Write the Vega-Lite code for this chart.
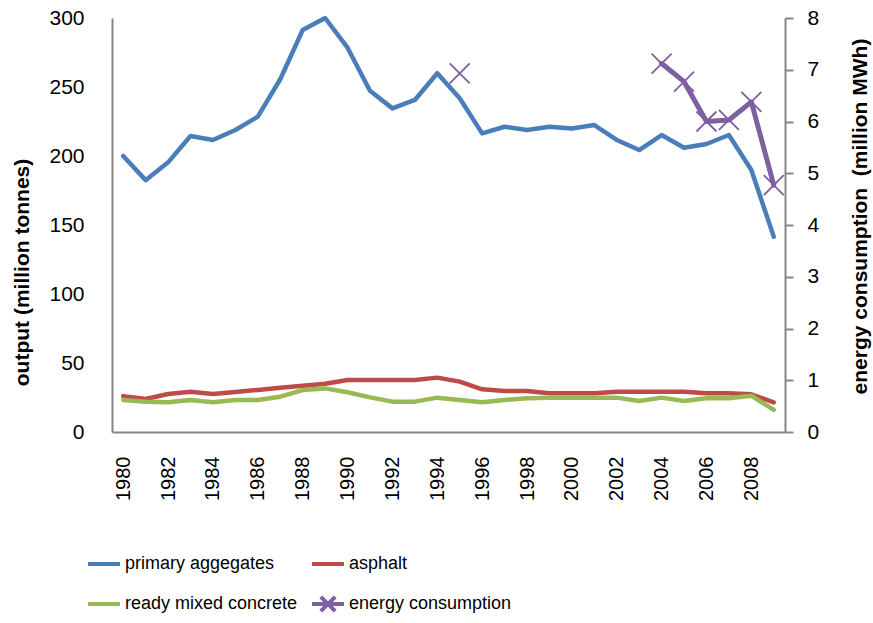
{
  "$schema": "https://vega.github.io/schema/vega-lite/v6.json",
  "autosize": {"type": "none"},
  "padding": {"left": 112, "top": 18, "right": 88, "bottom": 191},
  "width": 673,
  "height": 414,
  "background": "white",
  "config": {
    "view": {"stroke": null},
    "font": "Liberation Sans",
    "axis": {"grid": false, "domainColor": "#868686", "domainWidth": 2, "labelColor": "black", "titleColor": "black", "labelFont": "Liberation Sans", "titleFont": "Liberation Sans"}
  },
  "data": {
    "values": [
      {"year": 1980, "primary aggegates": 200, "asphalt": 26, "ready mixed concrete": 23.2, "energy": null},
      {"year": 1981, "primary aggegates": 182.5, "asphalt": 23.9, "ready mixed concrete": 22, "energy": null},
      {"year": 1982, "primary aggegates": 195.4, "asphalt": 27.5, "ready mixed concrete": 21.5, "energy": null},
      {"year": 1983, "primary aggegates": 214.5, "asphalt": 29.2, "ready mixed concrete": 23.2, "energy": null},
      {"year": 1984, "primary aggegates": 211.6, "asphalt": 27.5, "ready mixed concrete": 21.5, "energy": null},
      {"year": 1985, "primary aggegates": 218.8, "asphalt": 29, "ready mixed concrete": 23.2, "energy": null},
      {"year": 1986, "primary aggegates": 228.5, "asphalt": 30.5, "ready mixed concrete": 23.2, "energy": null},
      {"year": 1987, "primary aggegates": 255.6, "asphalt": 32, "ready mixed concrete": 25.6, "energy": null},
      {"year": 1988, "primary aggegates": 291.3, "asphalt": 33.5, "ready mixed concrete": 30.4, "energy": null},
      {"year": 1989, "primary aggegates": 300, "asphalt": 35, "ready mixed concrete": 31.6, "energy": null},
      {"year": 1990, "primary aggegates": 278.5, "asphalt": 37.7, "ready mixed concrete": 28.8, "energy": null},
      {"year": 1991, "primary aggegates": 247.3, "asphalt": 37.7, "ready mixed concrete": 25.1, "energy": null},
      {"year": 1992, "primary aggegates": 234.5, "asphalt": 37.7, "ready mixed concrete": 22, "energy": null},
      {"year": 1993, "primary aggegates": 240.6, "asphalt": 37.7, "ready mixed concrete": 22, "energy": null},
      {"year": 1994, "primary aggegates": 260, "asphalt": 39.4, "ready mixed concrete": 24.9, "energy": null},
      {"year": 1995, "primary aggegates": 241.8, "asphalt": 36.5, "ready mixed concrete": 23.2, "energy": 6.93},
      {"year": 1996, "primary aggegates": 216.4, "asphalt": 30.9, "ready mixed concrete": 21.5, "energy": null},
      {"year": 1997, "primary aggegates": 221.2, "asphalt": 29.7, "ready mixed concrete": 23.2, "energy": null},
      {"year": 1998, "primary aggegates": 218.8, "asphalt": 29.7, "ready mixed concrete": 24.4, "energy": null},
      {"year": 1999, "primary aggegates": 221.2, "asphalt": 28, "ready mixed concrete": 24.9, "energy": null},
      {"year": 2000, "primary aggegates": 220, "asphalt": 28, "ready mixed concrete": 24.9, "energy": null},
      {"year": 2001, "primary aggegates": 222.4, "asphalt": 28, "ready mixed concrete": 24.9, "energy": null},
      {"year": 2002, "primary aggegates": 211.6, "asphalt": 29.2, "ready mixed concrete": 24.9, "energy": null},
      {"year": 2003, "primary aggegates": 204.3, "asphalt": 29.2, "ready mixed concrete": 22.5, "energy": null},
      {"year": 2004, "primary aggegates": 215.2, "asphalt": 29.2, "ready mixed concrete": 24.9, "energy": 7.12},
      {"year": 2005, "primary aggegates": 206, "asphalt": 29.2, "ready mixed concrete": 22.5, "energy": 6.77},
      {"year": 2006, "primary aggegates": 208.7, "asphalt": 28, "ready mixed concrete": 24.4, "energy": 6.0},
      {"year": 2007, "primary aggegates": 215.2, "asphalt": 28, "ready mixed concrete": 24.4, "energy": 6.03},
      {"year": 2008, "primary aggegates": 189.8, "asphalt": 27.3, "ready mixed concrete": 26.3, "energy": 6.38},
      {"year": 2009, "primary aggegates": 141.5, "asphalt": 21.5, "ready mixed concrete": 16, "energy": 4.77}
    ]
  },
  "encoding": {
    "x": {
      "field": "year", "type": "ordinal",
      "scale": {"type": "point", "padding": 0.5},
      "axis": {
        "title": null,
        "values": [1980, 1982, 1984, 1986, 1988, 1990, 1992, 1994, 1996, 1998, 2000, 2002, 2004, 2006, 2008],
        "labelAngle": -90, "labelAlign": "right", "labelBaseline": "middle",
        "labelFontSize": 20, "labelPadding": 24, "ticks": false
      }
    }
  },
  "layer": [
    {
      "transform": [{"fold": ["primary aggegates", "asphalt", "ready mixed concrete"], "as": ["series", "val"]}],
      "mark": {"type": "line", "strokeWidth": 4.5, "strokeJoin": "round", "strokeCap": "round"},
      "encoding": {
        "y": {
          "field": "val", "type": "quantitative",
          "scale": {"domain": [0, 300], "nice": false, "zero": true},
          "axis": {
            "title": "output (million tonnes)", "values": [0, 50, 100, 150, 200, 250, 300],
            "ticks": false, "labelFontSize": 21, "labelPadding": 28,
            "titleFontSize": 21, "titleFontWeight": "bold", "titleAngle": -90,
            "titleX": -90, "titleY": 254, "titleAlign": "center", "titleBaseline": "middle"
          }
        },
        "color": {
          "field": "series", "type": "nominal",
          "scale": {
            "domain": ["primary aggegates", "asphalt", "ready mixed concrete", "energy consumption"],
            "range": ["#4A7EBB", "#BE4B48", "#98B954", "#7D60A0"]
          },
          "legend": {
            "title": null, "orient": "none", "legendX": -26, "legendY": 528,
            "values": ["primary aggegates", "ready mixed concrete", "asphalt", "energy consumption"],
            "columns": 2, "columnPadding": 6, "rowPadding": 13,
            "symbolType": "stroke", "symbolSize": 1024, "symbolStrokeWidth": 4,
            "labelFont": "Liberation Sans", "labelFontSize": 18, "labelColor": "black", "labelOffset": 3, "labelLimit": 400,
            "encoding": {
              "symbols": {
                "shape": {
                  "condition": {"test": "datum.value === 'energy consumption'", "value": "M-1,0L1,0M-0.45,-0.45L0.45,0.45M-0.45,0.45L0.45,-0.45"},
                  "value": "M-1,0L1,0"
                }
              }
            }
          }
        },
        "order": {"field": "year", "type": "quantitative"}
      }
    },
    {
      "layer": [
        {
          "transform": [{"filter": "datum.energy != null && datum.year >= 2004"}],
          "mark": {"type": "line", "strokeWidth": 5, "strokeJoin": "round", "strokeCap": "round"},
          "encoding": {
            "y": {
              "field": "energy", "type": "quantitative",
              "scale": {"domain": [0, 8], "nice": false},
              "axis": {
                "orient": "right", "title": "energy consumption \u00a0(million MWh)",
                "values": [0, 1, 2, 3, 4, 5, 6, 7, 8],
                "ticks": true, "tickSize": 8, "tickWidth": 2, "tickColor": "#868686",
                "labelFontSize": 21, "labelPadding": 14,
                "titleFontSize": 21, "titleFontWeight": "bold", "titleAngle": -90,
                "titleX": 75, "titleY": 198, "titleAlign": "center", "titleBaseline": "middle"
              }
            },
            "color": {"datum": "energy consumption", "type": "nominal"}
          }
        },
        {
          "transform": [{"filter": "datum.energy != null"}],
          "mark": {"type": "point", "shape": "M-1,-1L1,1M-1,1L1,-1", "size": 400, "filled": false, "strokeWidth": 1.8, "opacity": 1},
          "encoding": {
            "y": {"field": "energy", "type": "quantitative"},
            "color": {"datum": "energy consumption", "type": "nominal"}
          }
        }
      ]
    }
  ],
  "resolve": {"scale": {"y": "independent"}}
}
